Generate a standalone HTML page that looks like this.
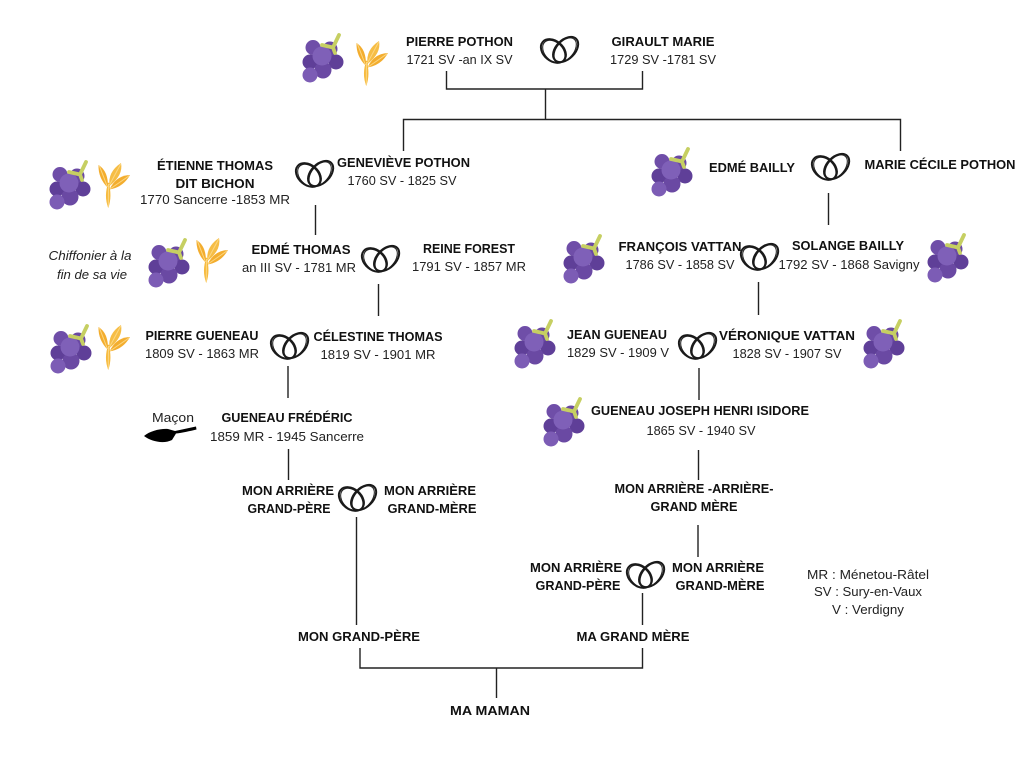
<!DOCTYPE html>
<html><head><meta charset="utf-8"><style>
html,body{margin:0;padding:0;background:#fff}
svg{display:block}
text{font-family:"Liberation Sans",sans-serif;font-size:13px;fill:#222;text-anchor:middle}
.b{font-weight:bold;fill:#111}
.i{font-style:italic}
</style></head><body>
<svg width="1024" height="768" viewBox="0 0 1024 768" xmlns="http://www.w3.org/2000/svg">
<defs>
<g id="grape">
<circle cx="10" cy="11.500" r="7.500" fill="#6f4ea8"/><circle cx="27" cy="13" r="7.500" fill="#6a49a3"/>
<circle cx="7" cy="26" r="7.500" fill="#5f3f98"/><circle cx="33" cy="26" r="7.500" fill="#5f3f98"/>
<circle cx="20" cy="34" r="8.500" fill="#6a49a3"/><circle cx="7" cy="39" r="7.500" fill="#7c5cb5"/>
<circle cx="19" cy="20" r="9.500" fill="#7f60b8"/>
<path d="M19 9L30 11.500L36 -1M30 11.500L32 17" stroke="#c6cf62" stroke-width="3.800" fill="none" stroke-linejoin="round" stroke-linecap="round"/>
</g>
<g id="wheat">
<path d="M10 21L11 46L13 21Z" fill="#f5b53a"/>
<path d="M11.300 46Q15.500 34 11.500 20Q6.500 34 11.300 46Z" fill="#f7bb3f"/>
<path d="M1.500 3Q11.500 9 11 26Q1 16 1.500 3Z" fill="#f3ad2e"/>
<path d="M24 1Q26.500 13 12.500 24Q10.500 10 24 1Z" fill="#f6bd45"/>
<path d="M33 13Q26 25.500 12.500 27.500Q19 13.500 33 13Z" fill="#f3ad2e"/>
<path d="M2.300 3.700L10.500 25M23.700 2L12.500 23M32.300 13.700L13 27M11.300 45L11.500 22" stroke="#fbd680" stroke-width="1" fill="none"/>
</g>
<g id="rings" fill="none" stroke="#1a1a1a">
<g stroke-width="2">
<ellipse cx="12.400" cy="13" rx="14" ry="10" transform="rotate(40 12.400 13)"/>
<ellipse cx="24.600" cy="11.500" rx="15" ry="9.500" transform="rotate(-45 24.600 11.500)"/>
</g>
<g stroke-width="1">
<ellipse cx="12.800" cy="13.500" rx="13" ry="9" transform="rotate(46 12.800 13.500)"/>
<ellipse cx="24.200" cy="12" rx="14" ry="8.500" transform="rotate(-50 24.200 12)"/>
</g>
</g>
</defs>

<g stroke="#222" stroke-width="1.400" fill="none">
<path d="M446.500 71V89H642.500V71"/>
<path d="M545.500 89V119"/>
<path d="M403.500 151V119.500H900.500V151"/>
<path d="M315.500 205V235M378.500 284V316M288 366V398M288.500 449V480M356.500 517V625"/>
<path d="M828.500 193V225M758.500 282V315M699 368V400M698.500 450V480M698 525V557M642.500 593V625"/>
<path d="M360 648V668H642.500V648M496.500 668V698"/>
</g>

<use href="#grape" x="303" y="36"/><use href="#wheat" x="355" y="40"/>
<use href="#grape" x="50" y="163"/><use href="#wheat" x="97" y="162"/>
<use href="#grape" x="149" y="241"/><use href="#wheat" x="195" y="237"/>
<use href="#grape" x="51" y="327"/><use href="#wheat" x="97" y="324"/>
<use href="#grape" x="652" y="150"/>
<use href="#grape" x="564" y="237"/>
<use href="#grape" x="928" y="236"/>
<use href="#grape" x="515" y="322"/>
<use href="#grape" x="864" y="322"/>
<use href="#grape" x="544" y="400"/>

<use href="#rings" x="541" y="38"/>
<use href="#rings" x="296" y="162"/>
<use href="#rings" x="362" y="247"/>
<use href="#rings" x="271" y="334"/>
<use href="#rings" x="812" y="155"/>
<use href="#rings" x="741" y="245"/>
<use href="#rings" x="679" y="334"/>
<use href="#rings" x="339" y="486"/>
<use href="#rings" x="627" y="563"/>

<path d="M144 436C150 431 160 428.500 168 429L175 431L196 426.500L196.500 429.500C190 431 182 433 176 433.500L172 440C164 444 152 442 144 436Z" fill="#000"/>

<g>
<text class="b" x="459.500" y="46" textLength="107" lengthAdjust="spacingAndGlyphs">PIERRE POTHON</text>
<text x="459.500" y="64" textLength="106" lengthAdjust="spacingAndGlyphs">1721 SV -an IX SV</text>
<text class="b" x="663" y="46" textLength="103" lengthAdjust="spacingAndGlyphs">GIRAULT MARIE</text>
<text x="663" y="64" textLength="106" lengthAdjust="spacingAndGlyphs">1729 SV -1781 SV</text>
<text class="b" x="215" y="170" textLength="116" lengthAdjust="spacingAndGlyphs">ÉTIENNE THOMAS</text>
<text class="b" x="215" y="188" textLength="79" lengthAdjust="spacingAndGlyphs">DIT BICHON</text>
<text x="215" y="204" textLength="150" lengthAdjust="spacingAndGlyphs">1770 Sancerre -1853 MR</text>
<text class="b" x="403.500" y="167" textLength="133" lengthAdjust="spacingAndGlyphs">GENEVIÈVE POTHON</text>
<text x="402" y="185" textLength="109" lengthAdjust="spacingAndGlyphs">1760 SV - 1825 SV</text>
<text class="b" x="752" y="172" textLength="86" lengthAdjust="spacingAndGlyphs">EDMÉ BAILLY</text>
<text class="b" x="940" y="169" textLength="151" lengthAdjust="spacingAndGlyphs">MARIE CÉCILE POTHON</text>
<text class="i" x="90" y="260" textLength="83" lengthAdjust="spacingAndGlyphs">Chiffonier à la</text>
<text class="i" x="92" y="279" textLength="70" lengthAdjust="spacingAndGlyphs">fin de sa vie</text>
<text class="b" x="301" y="254" textLength="99" lengthAdjust="spacingAndGlyphs">EDMÉ THOMAS</text>
<text x="299" y="272" textLength="114" lengthAdjust="spacingAndGlyphs">an III SV - 1781 MR</text>
<text class="b" x="469" y="253" textLength="92" lengthAdjust="spacingAndGlyphs">REINE FOREST</text>
<text x="469" y="271" textLength="114" lengthAdjust="spacingAndGlyphs">1791 SV - 1857 MR</text>
<text class="b" x="680" y="251" textLength="123" lengthAdjust="spacingAndGlyphs">FRANÇOIS VATTAN</text>
<text x="680" y="269" textLength="109" lengthAdjust="spacingAndGlyphs">1786 SV - 1858 SV</text>
<text class="b" x="848" y="250" textLength="112" lengthAdjust="spacingAndGlyphs">SOLANGE BAILLY</text>
<text x="849" y="269" textLength="141" lengthAdjust="spacingAndGlyphs">1792 SV - 1868 Savigny</text>
<text class="b" x="202" y="340" textLength="113" lengthAdjust="spacingAndGlyphs">PIERRE GUENEAU</text>
<text x="202" y="358" textLength="114" lengthAdjust="spacingAndGlyphs">1809 SV - 1863 MR</text>
<text class="b" x="378" y="341" textLength="129" lengthAdjust="spacingAndGlyphs">CÉLESTINE THOMAS</text>
<text x="378" y="359" textLength="115" lengthAdjust="spacingAndGlyphs">1819 SV - 1901 MR</text>
<text class="b" x="617" y="339" textLength="100" lengthAdjust="spacingAndGlyphs">JEAN GUENEAU</text>
<text x="618" y="357" textLength="102" lengthAdjust="spacingAndGlyphs">1829 SV - 1909 V</text>
<text class="b" x="787" y="340" textLength="136" lengthAdjust="spacingAndGlyphs">VÉRONIQUE VATTAN</text>
<text x="787" y="358" textLength="109" lengthAdjust="spacingAndGlyphs">1828 SV - 1907 SV</text>
<text x="173" y="422" textLength="42" lengthAdjust="spacingAndGlyphs">Maçon</text>
<text class="b" x="287" y="422" textLength="131" lengthAdjust="spacingAndGlyphs">GUENEAU FRÉDÉRIC</text>
<text x="287" y="441" textLength="154" lengthAdjust="spacingAndGlyphs">1859 MR - 1945 Sancerre</text>
<text class="b" x="700" y="415" textLength="218" lengthAdjust="spacingAndGlyphs">GUENEAU JOSEPH HENRI ISIDORE</text>
<text x="701" y="435" textLength="109" lengthAdjust="spacingAndGlyphs">1865 SV - 1940 SV</text>
<text class="b" x="288" y="495" textLength="92" lengthAdjust="spacingAndGlyphs">MON ARRIÈRE</text>
<text class="b" x="289" y="513" textLength="83" lengthAdjust="spacingAndGlyphs">GRAND-PÈRE</text>
<text class="b" x="430" y="495" textLength="92" lengthAdjust="spacingAndGlyphs">MON ARRIÈRE</text>
<text class="b" x="432" y="513" textLength="89" lengthAdjust="spacingAndGlyphs">GRAND-MÈRE</text>
<text class="b" x="694" y="493" textLength="159" lengthAdjust="spacingAndGlyphs">MON ARRIÈRE -ARRIÈRE-</text>
<text class="b" x="694" y="511" textLength="87" lengthAdjust="spacingAndGlyphs">GRAND MÈRE</text>
<text class="b" x="576" y="572" textLength="92" lengthAdjust="spacingAndGlyphs">MON ARRIÈRE</text>
<text class="b" x="578" y="590" textLength="85" lengthAdjust="spacingAndGlyphs">GRAND-PÈRE</text>
<text class="b" x="718" y="572" textLength="92" lengthAdjust="spacingAndGlyphs">MON ARRIÈRE</text>
<text class="b" x="720" y="590" textLength="89" lengthAdjust="spacingAndGlyphs">GRAND-MÈRE</text>
<text x="868" y="579" textLength="122" lengthAdjust="spacingAndGlyphs">MR : Ménetou-Râtel</text>
<text x="868" y="596" textLength="108" lengthAdjust="spacingAndGlyphs">SV : Sury-en-Vaux</text>
<text x="868" y="614" textLength="72" lengthAdjust="spacingAndGlyphs">V : Verdigny</text>
<text class="b" x="359" y="641" textLength="122" lengthAdjust="spacingAndGlyphs">MON GRAND-PÈRE</text>
<text class="b" x="633" y="641" textLength="113" lengthAdjust="spacingAndGlyphs">MA GRAND MÈRE</text>
<text class="b" x="490" y="715" textLength="80" lengthAdjust="spacingAndGlyphs">MA MAMAN</text>
</g>
</svg>
</body></html>
